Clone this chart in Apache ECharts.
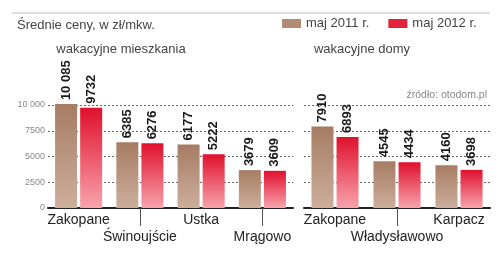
<!DOCTYPE html>
<html><head><meta charset="utf-8">
<script src="https://cdn.jsdelivr.net/npm/echarts@6/dist/echarts.min.js"></script>
<style>html,body{margin:0;padding:0;background:#fff}#c{width:504px;height:253px}</style>
</head><body><div id="c"></div>
<script>
const cats1 = ['Zakopane', 'Świnoujście', 'Ustka', 'Mrągowo'];
const flats2011 = [10085, 6385, 6177, 3679];
const flats2012 = [9732, 6276, 5222, 3609];
const cats2 = ['Zakopane', 'Władysławowo', 'Karpacz'];
const houses2011 = [7910, 4545, 4160];
const houses2012 = [6893, 4434, 3698];
const seriesNames = ['maj 2011 r.', 'maj 2012 r.'];
const yTicks = [0, 2500, 5000, 7500, 10000];

const FONT = 'Liberation Sans Narrow, Liberation Sans, sans-serif';
const fmtNum = v => v >= 10000 ? String(v).replace(/(\d+)(\d{3})$/, '$1 $2') : String(v);
const brown = new echarts.graphic.LinearGradient(0, 0, 0, 1, [{offset: 0, color: '#a67c63'}, {offset: 1, color: '#ccae9c'}]);
const red = new echarts.graphic.LinearGradient(0, 0, 0, 1, [{offset: 0, color: '#e0102e'}, {offset: 1, color: '#f7a3ab'}]);

const chart = echarts.init(document.getElementById('c'), null, {renderer: 'canvas'});
const grids = [
  {left: 48, top: 105, width: 245, height: 103},
  {left: 304, top: 105, width: 186, height: 103}
];
function xAx(i, cats) {
  return {
    type: 'category', gridIndex: i, data: cats,
    axisLine: {show: true, lineStyle: {color: '#222', width: 2}},
    axisTick: {show: true, alignWithLabel: true, interval: (idx) => idx % 2 === 1, length: 18, lineStyle: {color: '#555', width: 1}},
    axisLabel: {interval: 0, margin: 4, fontSize: 14, color: '#222', fontFamily: FONT, lineHeight: 17,
      formatter: (v, idx) => idx % 2 === 1 ? '\n' + v : v}
  };
}
function yAx(i, showLabels) {
  return {
    type: 'value', gridIndex: i, min: 0, max: yTicks[yTicks.length - 1], interval: yTicks[1] - yTicks[0],
    axisLine: {show: false}, axisTick: {show: false},
    axisLabel: {show: showLabels, margin: 3, fontSize: 9, color: '#888', fontFamily: FONT, formatter: fmtNum},
    splitLine: {show: true, lineStyle: {color: '#666', width: 1, type: [2, 2]}}
  };
}
function bar(name, data, color, i) {
  return {
    type: 'bar', name, data, xAxisIndex: i, yAxisIndex: i, barWidth: 22, barGap: '14%', clip: false,
    itemStyle: {color},
    label: {show: true, position: 'top', rotate: 90, align: 'left', verticalAlign: 'middle', distance: 4,
      fontSize: 13, fontWeight: 'bold', color: '#1a1a1a', fontFamily: FONT, formatter: p => fmtNum(p.value)}
  };
}
chart.setOption({
  animation: false,
  textStyle: {fontFamily: FONT},
  grid: grids,
  xAxis: [xAx(0, cats1), xAx(1, cats2)],
  yAxis: [yAx(0, true), yAx(1, false)],
  legend: {
    left: 282, top: 17, padding: 0, itemWidth: 19, itemHeight: 9, itemGap: 19, icon: 'rect',
    textStyle: {fontSize: 13, color: '#444', fontFamily: FONT},
    data: [{name: seriesNames[0], itemStyle: {color: '#b08b75'}}, {name: seriesNames[1], itemStyle: {color: '#e3233c'}}]
  },
  title: [
    {text: 'Średnie ceny, w zł/mkw.', left: 12, top: 14, textStyle: {fontSize: 13, fontWeight: 'normal', color: '#444', fontFamily: FONT}},
    {text: 'wakacyjne mieszkania', left: 116, textAlign: 'center', top: 38, textStyle: {fontSize: 13, fontWeight: 'normal', color: '#444', fontFamily: FONT}},
    {text: 'wakacyjne domy', left: 357, textAlign: 'center', top: 38, textStyle: {fontSize: 13, fontWeight: 'normal', color: '#444', fontFamily: FONT}},
    {text: 'źródło: otodom.pl', right: 17, top: 90, padding: 0, textStyle: {fontSize: 10.5, fontWeight: 'normal', color: '#888', fontFamily: FONT}}
  ],
  graphic: [{type: 'line', shape: {x1: 12, y1: 13, x2: 490, y2: 13}, style: {stroke: '#bbb', lineWidth: 1}}],
  series: [
    bar(seriesNames[0], flats2011, brown, 0),
    bar(seriesNames[1], flats2012, red, 0),
    bar(seriesNames[0], houses2011, brown, 1),
    bar(seriesNames[1], houses2012, red, 1)
  ]
});
</script></body></html>
